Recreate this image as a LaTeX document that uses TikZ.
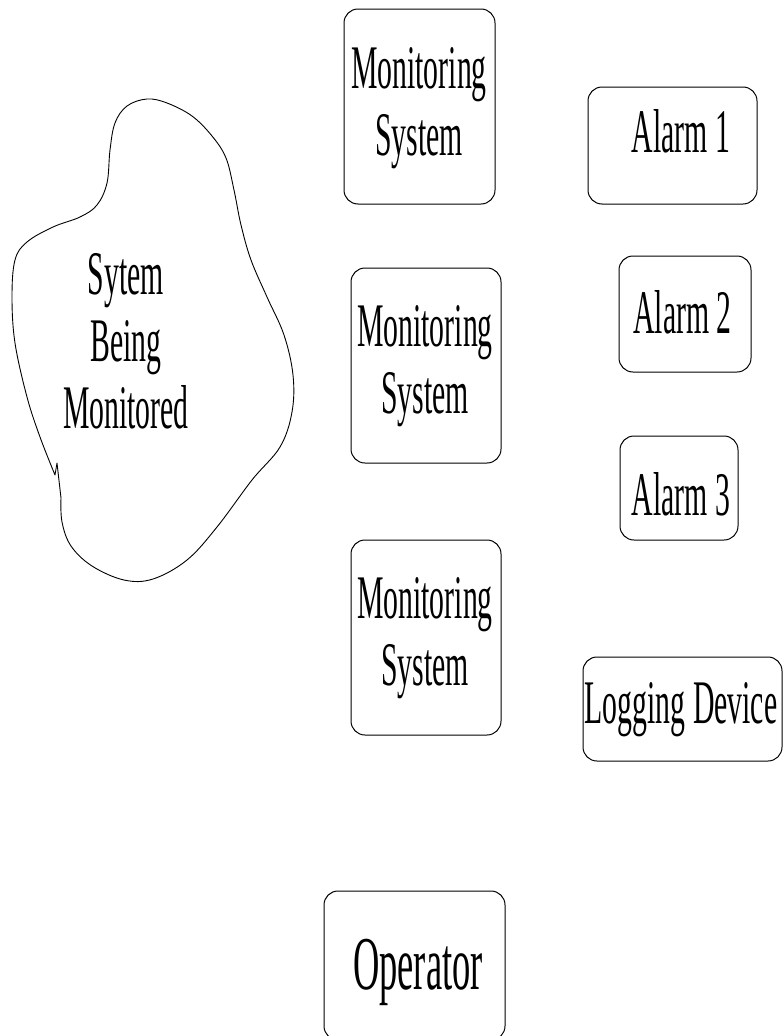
\documentclass[tikz,border=0pt]{standalone}
\usepackage{fontspec}
\setmainfont{Liberation Serif}
% condensed serif used for every label
\newfontfamily\narrowserif[FakeStretch=0.48]{Liberation Serif}
\tikzset{
  box/.style={draw=black, line width=1pt, rounded corners=14pt, rectangle, inner sep=0pt},
  lbl/.style={font=\narrowserif\fontsize{62}{67}\selectfont, align=center, anchor=base, inner sep=0pt},
  biglbl/.style={font=\narrowserif\fontsize{76}{80}\selectfont, anchor=base, inner sep=0pt},
  blobline/.style={draw=black, line width=0.9pt, line join=round}
}
\begin{document}
\begin{tikzpicture}[x=1pt, y=-1pt]
\useasboundingbox (0,0) rectangle (783,1036);

% the monitored system, drawn as a free-form cloud
\draw[blobline] plot[smooth, tension=0.6] coordinates {
  (61,498) (62,522) (71,546) (92,566) (124,580) (153,579) (187,560)
  (217,527) (252,480) (280,447) (292,412) (293,375) (284,335) (267,297)
  (251,260) (241,225) (234,190) (226,158) (212,136) (192,116) (167,103)
  (147,99) (127,106) (115,123) (110,150) (107,183) (97,205) (80,217)
  (53,227) (27,242) (15,260) (12,297) (15,343) (27,397) (40,437) (55,475)}
  -- (57,463) -- (61,498);
% multi-line labels are placed by the baseline of their last line
\node[lbl] (sbm) at (126,428) {Sytem\\Being\\Monitored};

% monitoring systems
\node[box, minimum width=151pt, minimum height=195pt] (ms1) at (419.5,106.5) {};
\node[lbl] (ms1t) at (419,155) {Monitoring\\System};
\node[box, minimum width=150pt, minimum height=195pt] (ms2) at (426,365.5) {};
\node[lbl] (ms2t) at (425,413) {Monitoring\\System};
\node[box, minimum width=150pt, minimum height=195pt] (ms3) at (426,637.5) {};
\node[lbl] (ms3t) at (425,685) {Monitoring\\System};

% alarms and logging
\node[box, minimum width=169pt, minimum height=117pt] (al1) at (672.5,145.5) {};
\node[lbl] (al1t) at (681,152) {Alarm 1};
\node[box, minimum width=132pt, minimum height=116pt] (al2) at (685,314) {};
\node[lbl] (al2t) at (682.5,333) {Alarm 2};
\node[box, minimum width=118pt, minimum height=104pt] (al3) at (679,488) {};
\node[lbl] (al3t) at (681,515) {Alarm 3};
\node[box, minimum width=199pt, minimum height=104pt] (log) at (682.5,709) {};
\node[lbl] (logt) at (681,723) {Logging Device};

% operator
\node[box, minimum width=181pt, minimum height=149pt] (op) at (414.5,965.5) {};
\node[biglbl] (opt) at (418,989) {Operator};
\end{tikzpicture}
\end{document}
